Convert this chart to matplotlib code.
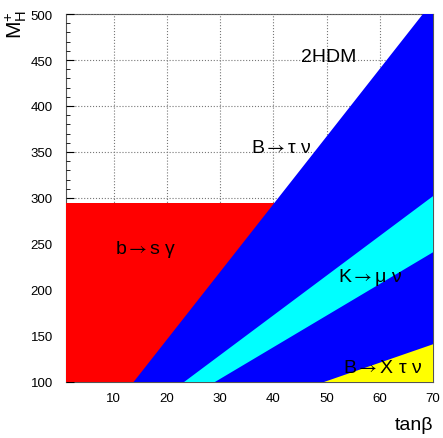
import numpy as np
import matplotlib
matplotlib.use('Agg')
import matplotlib.pyplot as plt

plt.rcParams['font.family'] = ['Liberation Sans', 'DejaVu Sans']
plt.rcParams['mathtext.fontset'] = 'custom'
plt.rcParams['mathtext.rm'] = 'Liberation Sans'
plt.rcParams['mathtext.it'] = 'Liberation Sans:italic'

# axis ranges
tanb_range = [1, 70]
mh_range = [100, 500]

# excluded regions (tan beta, M_H+ pairs along each edge)
bsg_limit = 295                     # b -> s gamma upper edge
btaunu_tb = [13.7, 68.1]            # B -> tau nu left edge
btaunu_mh = [100, 500]
kmunu_hi_tb = [23.2, 70]            # K -> mu nu band, upper edge
kmunu_hi_mh = [100, 302]
kmunu_lo_tb = [29.0, 70]            # K -> mu nu band, lower edge
kmunu_lo_mh = [100, 241]
bxtaunu_tb = [49.5, 70]             # B -> X tau nu upper edge
bxtaunu_mh = [100, 141]

xticks = [10, 20, 30, 40, 50, 60, 70]
yticks = [100, 150, 200, 250, 300, 350, 400, 450, 500]

labels = ['2HDM',
          'B$\\rightarrow$\u03c4 \u03bd',
          'b$\\rightarrow$s \u03b3',
          'K$\\rightarrow$\u03bc \u03bd',
          'B$\\rightarrow$X \u03c4 \u03bd']
label_x = [50.4, 41.5, 16.0, 58.2, 60.6]
label_y = [449, 350, 240, 210, 111]

fig = plt.figure(figsize=(4.43, 4.39), dpi=100)
ax = fig.add_axes([66/443, 1-383/439, 367/443, 368/439])

xmin, xmax = tanb_range
ymin, ymax = mh_range

# b -> s gamma (red), drawn first, then covered by the others
ax.fill_between([xmin, xmax], ymin, bsg_limit, color='#ff0000', lw=0, zorder=1)

# B -> tau nu (blue): everything right of its edge
ax.fill(btaunu_tb + [xmax, xmax], btaunu_mh + [ymax, ymin],
        color='#0000ff', lw=0, zorder=2)

# K -> mu nu band (cyan)
ax.fill(kmunu_hi_tb + kmunu_lo_tb[::-1], kmunu_hi_mh + kmunu_lo_mh[::-1],
        color='#00ffff', lw=0, zorder=3)

# B -> X tau nu (yellow)
ax.fill(bxtaunu_tb + [xmax], bxtaunu_mh + [ymin],
        color='#ffff00', lw=0, zorder=4)

for t, x, y in zip(labels, label_x, label_y):
    ax.text(x, y, t, fontsize=14, ha='center', va='baseline', zorder=5,
            math_fontfamily='stix')

ax.set_xlim(xmin, xmax)
ax.set_ylim(ymin, ymax)
ax.set_xticks(xticks)
ax.set_yticks(yticks)
ax.set_yticks(np.arange(ymin, ymax, 10), minor=True)
ax.tick_params(axis='both', which='both', direction='in', labelsize=9.5)
ax.tick_params(axis='y', which='major', length=6, pad=9.5)
ax.tick_params(axis='y', which='minor', length=3)
ax.tick_params(axis='x', which='major', length=0, pad=7)
ax.grid(True, ls=':', color='#777777', lw=0.8)
ax.set_axisbelow(True)
for s in ax.spines.values():
    s.set_color('#555555')
    s.set_zorder(0.5)

fig.text(433/443, 1-430/439, 'tan\u03b2', fontsize=14, ha='right', va='baseline')
fig.text(16/443, 1-25/439, r'$\mathrm{M}_{\mathrm{H}}^{+}$', fontsize=15,
         rotation=90, ha='center', va='center')

fig.savefig('out.png', dpi=100)
